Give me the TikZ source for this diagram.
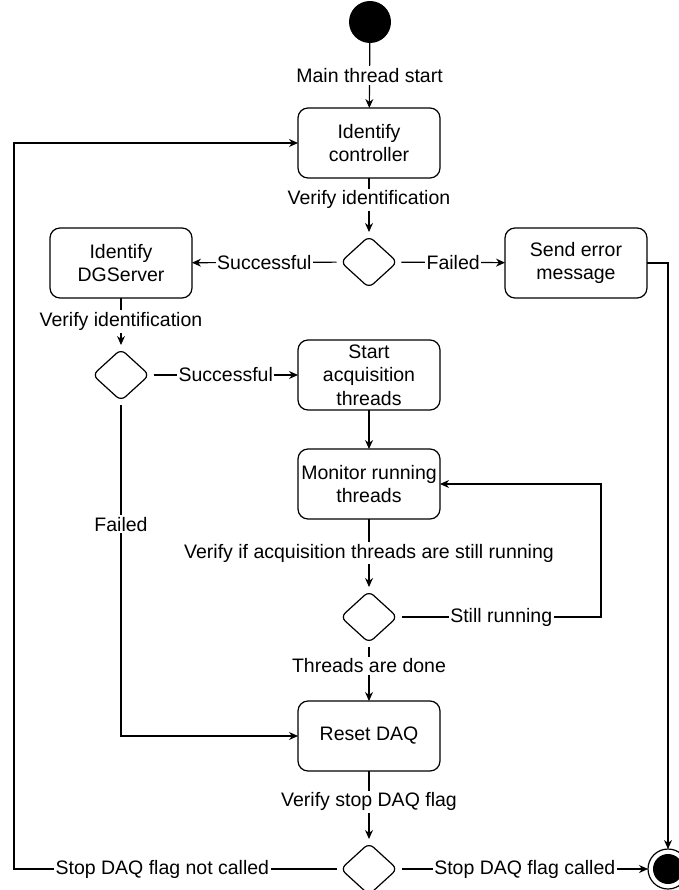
\documentclass[tikz,border=0pt]{standalone}
\usepackage{fontspec}
\setmainfont{Liberation Sans}
\usetikzlibrary{arrows.meta,shapes.geometric}
\begin{document}
\begin{tikzpicture}[x=1pt,y=-1pt,inner sep=0pt,outer sep=0pt,very thick,>={Stealth[length=9pt,width=8pt]},
every node/.style={font=\fontsize{19.5}{23.5}\selectfont},
actblock/.style={draw,rectangle,rounded corners=10pt,minimum width=142pt,minimum height=70pt,align=center,very thick},
decision/.style={draw,diamond,rounded corners=6pt,minimum width=59pt,minimum height=54pt,outer sep=3pt,very thick},
edgelabel/.style={fill=white,inner xsep=1.5pt,inner ysep=2pt}]
\useasboundingbox (0,0) rectangle (678,890);
\draw (370,22) node[circle,fill,minimum size=42pt] (init) {};
\draw (369,143) node[actblock] (ctrl) {Identify\\controller};
\draw (369,262) node[decision] (dec1) {};
\draw (121,263) node[actblock] (dgs) {Identify\\DGServer};
\draw (576,263) node[actblock] (err) {Send error\\message};
\draw (121,375) node[decision] (dec2) {};
\draw (369,375) node[actblock] (acq) {Start\\acquisition\\threads};
\draw (369,484) node[actblock] (mon) {Monitor running\\threads};
\draw (369,617) node[decision] (dec3) {};
\draw (369,736) node[actblock] (reset) {Reset DAQ};
\draw (369,869) node[decision] (dec4) {};
\draw (668,869) node[circle,draw,minimum size=40pt] (final) {};
\fill (final) circle (15pt);
\coordinate (loopr) at (601,484);
\coordinate (loopl) at (14,143);
\draw[->] (init) -- node[edgelabel] {Main thread start} (ctrl);
\draw[->] (ctrl) -- node[edgelabel,pos=0.4] {Verify identification} (dec1);
\draw[->] (dec1) -- node[edgelabel] {Successful} (dgs);
\draw[->] (dec1) -- node[edgelabel] {Failed} (err);
\draw[->] (err.east) -| (final.north);
\draw[->] (dgs) -- node[edgelabel] {Verify identification} (dec2);
\draw[->] (dec2) -- node[edgelabel] {Successful} (acq);
\draw[->] (dec2.south) |- node[edgelabel,pos=0.18] {Failed} (reset.west);
\draw[->] (acq) -- (mon);
\draw[->] (mon) -- node[edgelabel] {Verify if acquisition threads are still running} (dec3);
\draw[->] (dec3.east) -| node[edgelabel,pos=0.25] {Still running} (loopr) -- (mon.east);
\draw[->] (dec3) -- node[edgelabel,pos=0.35] {Threads are done} (reset);
\draw[->] (reset) -- node[edgelabel,pos=0.45] {Verify stop DAQ flag} (dec4);
\draw[->] (dec4.east) -- node[edgelabel] {Stop DAQ flag called} (final);
\draw[->] (dec4.west) -| node[edgelabel,pos=0.27] {Stop DAQ flag not called} (loopl) -- (ctrl.west);
\end{tikzpicture}
\end{document}
